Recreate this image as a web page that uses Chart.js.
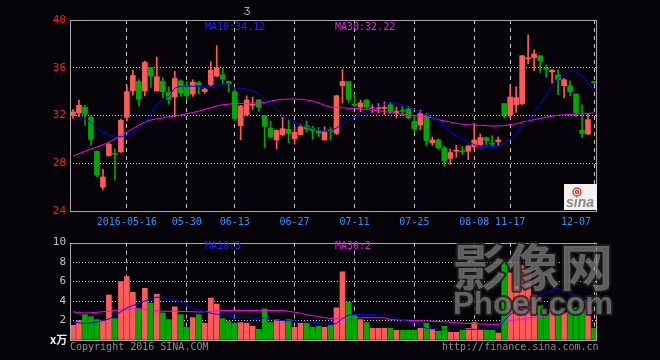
<!DOCTYPE html>
<html><head><meta charset="utf-8">
<script src="https://cdn.jsdelivr.net/npm/chart.js@4.4.1/dist/chart.umd.min.js"></script>
<style>
html,body{margin:0;padding:0;background:#050308;width:660px;height:360px;overflow:hidden}
canvas{position:absolute;left:0}
#c1{top:0;width:660px;height:232px}
#c2{top:232px;width:660px;height:128px}
</style></head><body>
<canvas id="c1" width="660" height="232"></canvas>
<canvas id="c2" width="660" height="128"></canvas>
<script>
// ---- data ----
const opens  = [32.0,32.2,32.7,31.85,29.0,26.0,28.65,28.8,28.95,31.85,34.05,34.85,34.05,36.0,34.05,34.85,33.95,33.55,34.9,34.5,33.8,34.75,34.0,34.6,35.3,35.4,34.85,34.0,31.15,32.05,32.85,33.3,32.0,30.95,29.95,30.4,30.85,30.05,30.4,31.15,30.95,30.7,29.95,30.8,30.5,34.5,34.85,32.9,32.7,33.3,32.55,32.6,32.6,32.9,32.25,32.4,32.55,31.5,31.2,32.05,29.7,29.95,29.3,28.4,29.0,29.05,29.0,29.4,29.55,30.15,29.65,29.8,33.0,32.05,32.9,33.0,36.75,36.85,37.0,35.95,35.65,35.4,34.5,34.5,33.8,30.75,30.45,34.8];
const highs  = [32.5,33.3,32.85,32.0,29.05,27.5,29.7,29.2,31.7,34.5,35.8,35.0,36.55,36.0,36.9,35.15,34.4,35.7,35.0,34.85,35.0,34.85,34.3,36.5,37.85,36.0,34.9,34.25,32.85,33.65,33.55,33.35,32.0,31.5,30.8,31.85,31.6,31.05,31.25,31.55,31.1,31.0,31.05,31.0,33.7,35.85,34.85,33.8,33.3,33.35,32.9,33.0,33.15,33.1,32.7,32.75,32.75,32.0,32.45,32.2,30.2,30.05,29.45,29.2,29.5,29.4,29.5,31.35,30.45,30.2,30.3,30.2,33.0,34.5,34.4,37.05,38.75,37.5,37.0,36.25,35.85,35.85,35.1,34.9,33.8,32.9,32.1,34.85];
const lows   = [31.75,31.9,31.2,29.5,26.85,25.8,28.6,26.6,28.9,31.55,33.7,32.8,33.65,34.35,34.05,33.5,32.95,31.9,33.6,33.35,33.6,33.8,33.85,34.45,35.25,34.65,33.95,31.6,29.95,32.0,32.5,32.35,29.3,30.1,29.2,30.3,29.7,29.6,30.4,30.6,30.0,30.25,29.95,29.95,30.4,33.05,33.1,32.75,32.3,32.55,32.25,32.25,32.05,32.15,31.8,32.0,31.7,30.55,30.8,29.45,29.5,29.15,27.75,27.9,28.5,28.75,28.3,29.2,29.5,29.55,29.45,29.5,31.8,31.8,32.25,32.9,36.35,35.75,35.6,35.2,34.7,33.75,33.5,33.65,31.9,30.15,30.4,34.7];
const closes = [32.3,32.85,32.1,30.0,27.0,26.85,29.6,28.75,31.6,34.0,35.35,33.35,36.45,35.3,35.25,34.0,33.35,35.1,33.9,33.65,34.8,34.55,34.2,35.8,36.0,35.05,34.65,31.75,32.8,33.3,32.9,32.7,31.1,30.2,30.75,30.9,30.5,30.6,31.05,30.85,30.75,30.55,30.65,30.65,33.65,34.85,33.35,32.85,33.05,32.7,32.65,32.65,32.65,32.35,32.3,32.35,31.8,30.9,32.15,29.9,29.95,29.3,28.2,28.9,29.1,28.95,29.45,29.95,30.15,29.9,29.6,29.95,32.05,33.55,33.5,37.0,36.8,37.15,36.6,35.9,35.8,35.0,35.0,34.0,32.2,30.5,31.65,34.75];
const ma10   = [31.65,31.7,31.7,31.45,30.95,30.6,30.4,30.25,30.2,30.35,30.6,30.9,31.4,32.2,32.95,33.3,33.6,34.3,34.45,34.45,34.45,34.45,34.4,34.4,34.5,34.6,34.7,34.35,34.25,34.2,34.1,33.8,33.35,32.95,32.5,32.0,31.65,31.4,31.2,31.05,30.9,30.78,30.7,30.68,30.95,31.3,31.6,31.85,32.1,32.35,32.55,32.75,32.95,33.1,33.05,32.9,32.7,32.5,32.3,32.05,31.85,31.6,31.1,30.65,30.3,30.05,29.8,29.55,29.4,29.4,29.4,29.4,29.65,30.05,30.5,31.1,31.65,32.3,33.0,33.7,34.4,35.1,35.5,35.7,35.65,35.3,34.7,34.12];
const ma30   = [28.6,28.8,29.0,29.2,29.35,29.55,29.75,30.05,30.35,30.6,30.9,31.2,31.45,31.62,31.72,31.8,31.9,31.95,32.05,32.15,32.25,32.35,32.5,32.65,32.8,32.9,32.95,33.0,33.0,33.0,33.05,33.05,33.1,33.2,33.3,33.35,33.38,33.38,33.35,33.3,33.2,33.05,32.85,32.7,32.68,32.65,32.6,32.6,32.55,32.5,32.45,32.4,32.32,32.25,32.18,32.1,32.05,32.0,31.95,31.9,31.8,31.65,31.55,31.45,31.35,31.27,31.22,31.2,31.18,31.15,31.12,31.12,31.15,31.25,31.3,31.45,31.55,31.65,31.75,31.85,31.95,32.02,32.05,32.08,32.1,32.13,32.17,32.22];
const volume = [1.5,2.0,2.6,2.4,2.1,2.0,4.6,2.2,6.0,6.5,4.9,3.2,5.3,3.8,4.7,2.8,2.1,3.4,2.6,1.3,2.3,2.6,1.7,4.3,3.7,2.2,1.9,1.7,1.8,1.7,1.4,1.1,3.2,1.8,2.1,2.0,2.1,1.3,1.7,1.7,1.3,1.4,1.3,1.5,3.3,7.0,3.9,2.5,2.1,1.8,1.2,1.2,1.2,1.2,1.0,1.0,1.0,1.0,1.2,1.7,1.1,0.9,1.4,0.8,0.8,1.0,1.2,1.8,1.0,1.0,1.0,0.7,8.0,6.9,5.5,7.7,7.1,4.6,3.5,2.6,3.2,3.0,2.8,3.6,3.3,3.1,4.1,1.2];
const volMa10 = [1.85,1.75,1.7,1.75,1.85,2.0,2.15,2.5,2.9,3.3,3.55,3.75,4.0,4.2,4.4,4.35,4.2,4.1,3.9,3.55,3.3,3.1,2.9,2.75,2.65,2.55,2.45,2.4,2.35,2.3,2.25,2.2,2.3,2.15,2.05,2.0,1.97,1.95,1.92,1.88,1.82,1.75,1.62,1.55,1.7,2.2,2.55,2.62,2.62,2.62,2.6,2.58,2.55,2.5,2.2,2.05,1.9,1.75,1.45,1.2,1.15,1.1,1.1,1.1,1.1,1.1,1.1,1.1,1.1,1.1,1.1,1.2,2.0,2.6,3.0,3.35,3.65,4.1,4.6,4.95,5.1,5.3,5.1,4.7,4.5,4.35,4.0,3.8];
const volMa30 = [2.9,2.8,2.78,2.8,2.85,2.9,2.95,3.05,3.1,3.15,3.2,3.2,3.15,3.1,3.0,2.95,2.95,2.95,2.93,2.92,2.9,2.87,2.9,2.95,3.0,3.03,3.03,3.03,3.03,3.03,3.03,3.03,3.03,3.03,3.03,3.03,2.95,2.85,2.75,2.6,2.5,2.4,2.3,2.2,2.2,2.25,2.3,2.3,2.28,2.28,2.28,2.28,2.28,2.1,2.07,2.05,2.02,2.0,1.97,1.95,1.93,1.9,1.87,1.83,1.78,1.72,1.7,1.68,1.65,1.62,1.6,1.6,1.85,1.97,2.05,2.15,2.25,2.32,2.4,2.5,2.55,2.62,2.7,2.77,2.82,2.87,2.95,3.0];
const tickIndex = [9,19,27,37,47,57,67,73,87];
const tickText  = ['2016-05-16','05-30','06-13','06-27','07-11','07-25','08-08','11-17','12-07'];
const priceTicks = {min:24, max:40, step:4};
const volTicks   = {min:0, max:10, step:2};

// ---- styling ----
const MONO = '"DejaVu Sans Mono","Liberation Mono",monospace';
const RED = '#ff5a5a', GREEN = '#00a800';
const GRIDC = '#c4c4c4', FRAME = '#a8a8a8';
const labels = opens.map((_, i) => { const k = tickIndex.indexOf(i); return k >= 0 ? tickText[k] : ''; });
const lastIdx = opens.length - 1;
const candleColors = opens.map((o, i) => closes[i] >= o ? RED : GREEN);

const framePlugin = {
  id: 'frame',
  afterDatasetsDraw(chart) {
    const {ctx, chartArea: a} = chart;
    ctx.save();
    ctx.strokeStyle = FRAME; ctx.lineWidth = 1;
    ctx.strokeRect(Math.round(a.left) + 0.5, Math.round(a.top) + 0.5, Math.round(a.right - a.left) - 1, Math.round(a.bottom - a.top));
    ctx.restore();
  }
};

const mainText = {
  id: 'mainText',
  afterDraw(chart) {
    const ctx = chart.ctx;
    ctx.save();
    ctx.font = '10px ' + MONO;
    ctx.textBaseline = 'middle';
    ctx.fillStyle = '#2222ff';
    ctx.fillText('MA10:' + ma10[ma10.length - 1].toFixed(2), 205, 27);
    ctx.fillStyle = '#e020e0';
    ctx.fillText('MA30:' + ma30[ma30.length - 1].toFixed(2), 335, 27);
    ctx.fillStyle = '#b0b0b0';
    ctx.fillText('Ʒ', 244, 12);
    // sina logo
    ctx.fillStyle = '#f2f2f2';
    ctx.fillRect(564, 184, 33, 26);
    ctx.strokeStyle = '#e04040'; ctx.lineWidth = 1.5;
    ctx.beginPath(); ctx.arc(577, 192, 4, 0, Math.PI * 2); ctx.stroke();
    ctx.beginPath(); ctx.arc(577, 192, 1.5, 0, Math.PI * 2); ctx.stroke();
    ctx.fillStyle = '#8a8a8a';
    ctx.font = 'italic bold 14px "Liberation Sans",sans-serif';
    ctx.textBaseline = 'alphabetic';
    ctx.fillText('sina', 566, 207);
    ctx.restore();
  }
};

const volText = {
  id: 'volText',
  afterDraw(chart) {
    const ctx = chart.ctx;
    const oy = 232;
    ctx.save();
    ctx.font = '10px ' + MONO;
    ctx.textBaseline = 'middle';
    ctx.fillStyle = '#2222ff';
    ctx.fillText('MA10:3', 205, 246 - oy);
    ctx.fillStyle = '#e020e0';
    ctx.fillText('MA30:2', 335, 246 - oy);
    ctx.fillStyle = '#8c8c8c';
    ctx.fillText('Copyright 2016 SINA.COM', 70, 347 - oy);
    ctx.fillText('http://finance.sina.com.cn', 442, 347 - oy);
    ctx.fillStyle = '#f0f0f0';
    ctx.font = 'bold 11px "Noto Sans CJK SC",sans-serif';
    ctx.fillText('x万', 50, 340 - oy);
    // watermark
    ctx.textBaseline = 'top';
    ctx.lineJoin = 'round';
    const drawFit = (txt, font, x, y, w) => {
      ctx.font = font;
      const m = ctx.measureText(txt).width;
      ctx.save();
      ctx.translate(x, y);
      ctx.scale(w / m, 1);
      ctx.strokeStyle = 'rgba(30,30,30,0.8)'; ctx.lineWidth = 4;
      ctx.strokeText(txt, 0, 0);
      ctx.fillStyle = 'rgba(150,150,150,0.6)';
      ctx.fillText(txt, 0, 0);
      ctx.restore();
    };
    drawFit('影像网', 'bold 50px "Noto Sans CJK SC",sans-serif', 453, 242 - oy, 160);
    drawFit('Phoer.com', 'bold 31px "Liberation Sans",sans-serif', 453, 290 - oy, 160);
    ctx.restore();
  }
};

const xScale = (showTicks) => ({
  type: 'category', offset: true,
  grid: { offset: false, drawTicks: false, lineWidth: 1,
          color: c => tickIndex.includes(c.index) ? GRIDC : 'rgba(0,0,0,0)' },
  border: { display: false, dash: [4, 4] },
  ticks: { display: showTicks, autoSkip: false, maxRotation: 0, minRotation: 0, padding: 5,
           color: '#2a90ff', font: { family: MONO, size: 10 },
           callback: (v, i) => i === lastIdx && labels[i] ? labels[i] + '      ' : labels[i] },
  afterFit: s => { s.height = showTicks ? 21 : 0; }
});

Chart.defaults.font.family = MONO;

new Chart(document.getElementById('c1'), {
  data: {
    labels,
    datasets: [
      { type: 'line', data: ma10, borderColor: '#0000ff', borderWidth: 1, pointRadius: 0, tension: 0, order: 0 },
      { type: 'line', data: ma30, borderColor: '#ff00ff', borderWidth: 1, pointRadius: 0, tension: 0, order: 0 },
      { type: 'bar', data: lows.map((l, i) => [l, highs[i]]), backgroundColor: candleColors, barThickness: 1, grouped: false, borderWidth: 0, order: 2 },
      { type: 'bar', data: opens.map((o, i) => [o, closes[i]]), backgroundColor: candleColors, barThickness: 5, grouped: false, borderWidth: 0, minBarLength: 1, order: 1 }
    ]
  },
  options: {
    responsive: false, animation: false, devicePixelRatio: 1,
    layout: { padding: { left: 0, right: 63, top: 20, bottom: 0 } },
    plugins: { legend: { display: false }, tooltip: { enabled: false } },
    scales: {
      x: xScale(true),
      y: { min: priceTicks.min, max: priceTicks.max,
           ticks: { stepSize: priceTicks.step, color: '#ff1a1a', padding: 4, font: { family: MONO, size: 11 } },
           grid: { drawTicks: false, color: c => (c.tick.value === priceTicks.min || c.tick.value === priceTicks.max) ? 'rgba(0,0,0,0)' : GRIDC },
           border: { display: false, dash: [1, 2] },
           afterFit: s => { s.width = 70; } }
    }
  },
  plugins: [framePlugin, mainText]
});

new Chart(document.getElementById('c2'), {
  data: {
    labels,
    datasets: [
      { type: 'line', data: volMa10, borderColor: '#0000ff', borderWidth: 1, pointRadius: 0, tension: 0, order: 0 },
      { type: 'line', data: volMa30, borderColor: '#ff00ff', borderWidth: 1, pointRadius: 0, tension: 0, order: 0 },
      { type: 'bar', data: volume, backgroundColor: candleColors, barThickness: 5, borderWidth: 0, order: 1 }
    ]
  },
  options: {
    responsive: false, animation: false, devicePixelRatio: 1,
    layout: { padding: { left: 0, right: 63, top: 8, bottom: 20 } },
    plugins: { legend: { display: false }, tooltip: { enabled: false } },
    scales: {
      x: xScale(false),
      y: { min: volTicks.min, max: volTicks.max,
           ticks: { stepSize: volTicks.step, color: '#c0c0c0', padding: 4, font: { family: MONO, size: 11 },
                    callback: v => v === 0 ? '' : v },
           grid: { drawTicks: false, color: c => (c.tick.value === volTicks.min || c.tick.value === volTicks.max) ? 'rgba(0,0,0,0)' : GRIDC },
           border: { display: false, dash: [1, 2] },
           afterFit: s => { s.width = 70; } }
    }
  },
  plugins: [framePlugin, volText]
});
</script>
</body></html>
